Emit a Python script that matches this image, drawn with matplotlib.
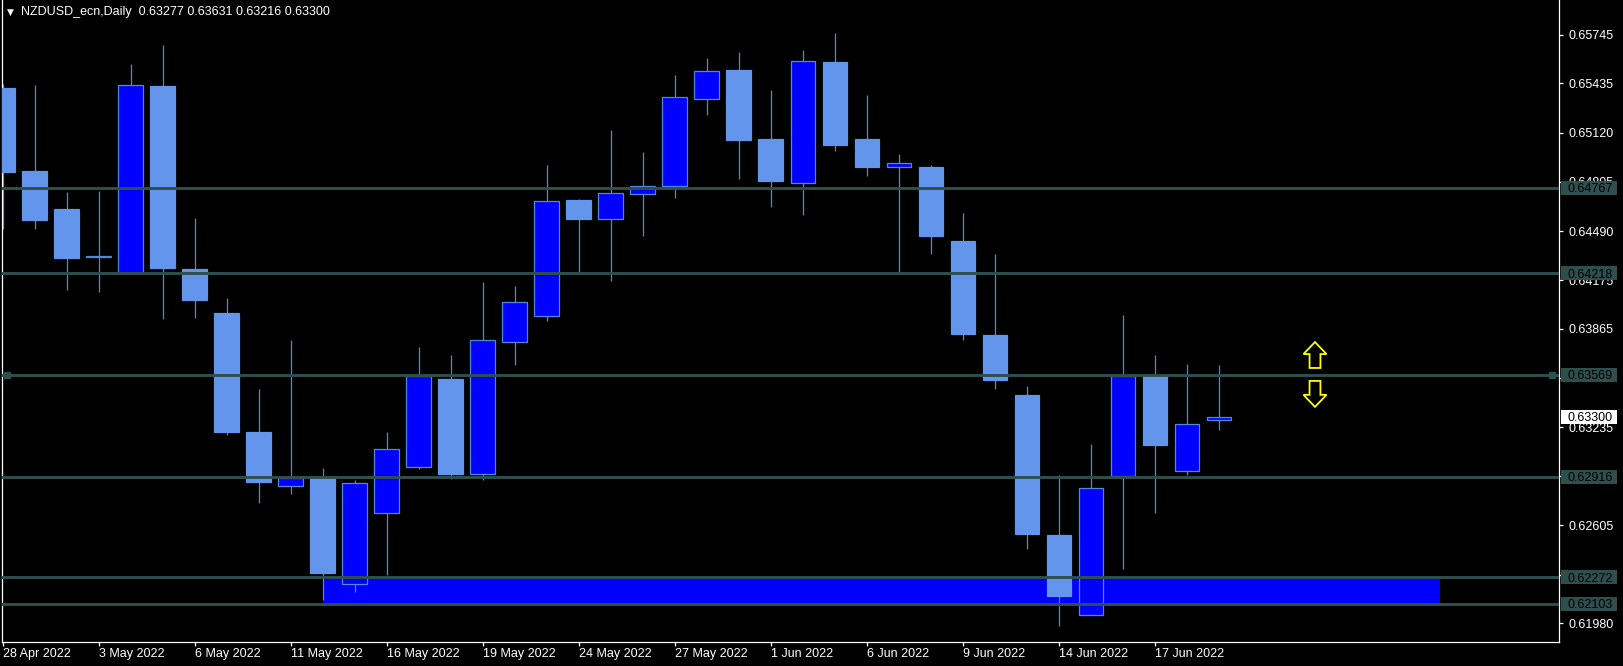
import matplotlib
matplotlib.use('Agg')
import matplotlib.pyplot as plt
import matplotlib.transforms as mtransforms
from matplotlib.patches import Rectangle, Polygon

plt.rcParams['font.family'] = ['Liberation Sans', 'DejaVu Sans']

# daily bars, 28 Apr 2022 .. 21 Jun 2022
dates = ['28 Apr', '29 Apr', '2 May', '3 May', '4 May', '5 May', '6 May', '9 May', '10 May',
         '11 May', '12 May', '13 May', '16 May', '17 May', '18 May', '19 May', '20 May',
         '23 May', '24 May', '25 May', '26 May', '27 May', '30 May', '31 May', '1 Jun',
         '2 Jun', '3 Jun', '6 Jun', '7 Jun', '8 Jun', '9 Jun', '10 Jun', '13 Jun', '14 Jun',
         '15 Jun', '16 Jun', '17 Jun', '20 Jun', '21 Jun']
opens = [0.65408, 0.64871, 0.64633, 0.64328, 0.64223, 0.65420, 0.64248, 0.63967, 0.63205,
         0.62855, 0.62906, 0.62230, 0.62683, 0.62979, 0.63544, 0.62934, 0.63779, 0.63947,
         0.64691, 0.64564, 0.64726, 0.64777, 0.65334, 0.65524, 0.65076, 0.64797, 0.65575,
         0.65081, 0.64901, 0.64901, 0.64423, 0.63825, 0.63443, 0.62546, 0.62032, 0.62923,
         0.63564, 0.62954, 0.63277]
highs = [0.65433, 0.65428, 0.64742, 0.64749, 0.65562, 0.65684, 0.64575, 0.64063, 0.63481,
         0.63795, 0.62974, 0.62898, 0.63202, 0.63749, 0.63698, 0.64164, 0.64139, 0.64914,
         0.64695, 0.65139, 0.64997, 0.65491, 0.65600, 0.65638, 0.65395, 0.65646, 0.65760,
         0.65362, 0.64985, 0.64914, 0.64607, 0.64344, 0.63498, 0.62929, 0.63129, 0.63954,
         0.63698, 0.63640, 0.63631]
lows = [0.64506, 0.64506, 0.64114, 0.64101, 0.64220, 0.63924, 0.63936, 0.63184, 0.62749,
        0.62804, 0.62126, 0.62176, 0.62285, 0.62969, 0.62901, 0.62893, 0.63630, 0.63911,
        0.64223, 0.64172, 0.64461, 0.64699, 0.65230, 0.64820, 0.64643, 0.64590, 0.65000,
        0.64840, 0.64223, 0.64342, 0.63790, 0.63476, 0.62452, 0.61959, 0.62032, 0.62323,
        0.62683, 0.62926, 0.63216]
closes = [0.64866, 0.64562, 0.64319, 0.64325, 0.65425, 0.64255, 0.64050, 0.63202, 0.62880,
          0.62906, 0.62303, 0.62875, 0.63093, 0.63564, 0.62931, 0.63792, 0.64035, 0.64681,
          0.64564, 0.64734, 0.64777, 0.65347, 0.65514, 0.65071, 0.64808, 0.65577, 0.65038,
          0.64899, 0.64924, 0.64456, 0.63828, 0.63534, 0.62549, 0.62151, 0.62842, 0.63564,
          0.63118, 0.63253, 0.63300]

levels = [0.64767, 0.64218, 0.63569, 0.62916, 0.62272, 0.62103]
yticks = [0.65745, 0.65435, 0.65120, 0.64805, 0.64490, 0.64175, 0.63865, 0.63550,
          0.63235, 0.62920, 0.62605, 0.62290, 0.61980]
last_price = 0.63300
zone_start, zone_end = 10, 44.9     # bar index of the blue zone
zone_low, zone_high = 0.62103, 0.62272
arrow_x = 41.0
up_base, dn_top = 0.63613, 0.63530

bg = 'black'
up_col = '#0000FF'
dn_col = '#6495ED'
wick_col = '#4f8ad6'
lvl_col = '#2F4F4F'

W, H = 1623, 666
fig = plt.figure(figsize=(W / 100, H / 100), dpi=100, facecolor=bg)
ax = fig.add_axes([2 / W, 1 - 642 / H, (1559 - 2) / W, 642 / H])
ax.set_facecolor(bg)

x = list(range(len(dates)))
ax.add_patch(Rectangle((zone_start, zone_low), zone_end - zone_start, zone_high - zone_low,
                       facecolor=up_col, edgecolor='none', zorder=1))
ax.vlines(x, lows, highs, color=wick_col, lw=0.9, zorder=2)
bottoms = [min(o, c) for o, c in zip(opens, closes)]
heights = [max(abs(c - o), 0.00003) for o, c in zip(opens, closes)]
fills = [up_col if c > o else dn_col for o, c in zip(opens, closes)]
edges = [wick_col if c > o else dn_col for o, c in zip(opens, closes)]
edges[3] = wick_col
ax.bar(x, heights, bottom=bottoms, width=0.78, color=fills, edgecolor=edges,
       linewidth=0.9, zorder=3)

for lv in levels:
    ax.axhline(lv, color=lvl_col, lw=2.1, zorder=4)
ax.plot([0.12, 48.4], [levels[2]] * 2, 's', ms=4.5, color=lvl_col, zorder=5, clip_on=False)

# yellow up / down arrows
alen, hlen, hw, sw = 0.00166, 0.00077, 0.36, 0.17
up = [(arrow_x - sw, up_base), (arrow_x + sw, up_base), (arrow_x + sw, up_base + alen - hlen),
      (arrow_x + hw, up_base + alen - hlen), (arrow_x, up_base + alen),
      (arrow_x - hw, up_base + alen - hlen), (arrow_x - sw, up_base + alen - hlen)]
dn = [(arrow_x - sw, dn_top), (arrow_x + sw, dn_top), (arrow_x + sw, dn_top - alen + hlen),
      (arrow_x + hw, dn_top - alen + hlen), (arrow_x, dn_top - alen),
      (arrow_x - hw, dn_top - alen + hlen), (arrow_x - sw, dn_top - alen + hlen)]
for pts in (up, dn):
    ax.add_patch(Polygon(pts, closed=True, facecolor=bg, edgecolor='#FFFF00', lw=1.3, zorder=6))

ax.set_xlim(-0.03, 48.625)
ax.set_ylim(0.618584, 0.659691)

for s in ['left', 'right', 'bottom']:
    ax.spines[s].set_color('white')
    ax.spines[s].set_linewidth(0.9)
ax.spines['top'].set_visible(False)

ax.yaxis.tick_right()
ax.set_yticks(yticks)
ax.set_yticklabels([f'{v:.5f}' for v in yticks])
ax.set_xticks(x[::3])
ax.set_xticklabels([d + ' 2022' for d in dates[::3]], ha='left')
ax.tick_params(axis='y', colors='white', labelcolor='white', length=3, width=0.9,
               direction='out', pad=3.6, labelsize=9)
ax.tick_params(axis='x', colors='white', labelcolor='white', length=3, width=0.9,
               direction='out', pad=1, labelsize=9)

# price labels in the right scale
tr = mtransforms.blended_transform_factory(fig.transFigure, ax.transData)
box_h = 14 * (0.659691 - 0.618584) / 642
for lv in levels:
    fig.patches.append(Rectangle((1561 / W, lv - box_h / 2), 56 / W, box_h, transform=tr,
                                 facecolor=lvl_col, edgecolor='none', zorder=10))
    fig.text(1567 / W, lv, f'{lv:.5f}', transform=tr, color='black', fontsize=9,
             va='center_baseline', ha='left', zorder=11)
fig.patches.append(Rectangle((1561 / W, last_price - box_h / 2), 56 / W, box_h, transform=tr,
                             facecolor='white', edgecolor='none', zorder=10))
fig.text(1567 / W, last_price, f'{last_price:.5f}', transform=tr, color='black', fontsize=9,
         va='center_baseline', ha='left', zorder=11)

fig.text(7 / W, 1 - 12 / H, '\u25BC', color='white', fontsize=6.5, family='DejaVu Sans',
         va='center', ha='left')
fig.text(21 / W, 1 - 12 / H,
         f'NZDUSD_ecn,Daily  {opens[-1]:.5f} {highs[-1]:.5f} {lows[-1]:.5f} {closes[-1]:.5f}',
         color='white', fontsize=9, va='center', ha='left')

fig.savefig('out.png', dpi=100, facecolor=bg)
